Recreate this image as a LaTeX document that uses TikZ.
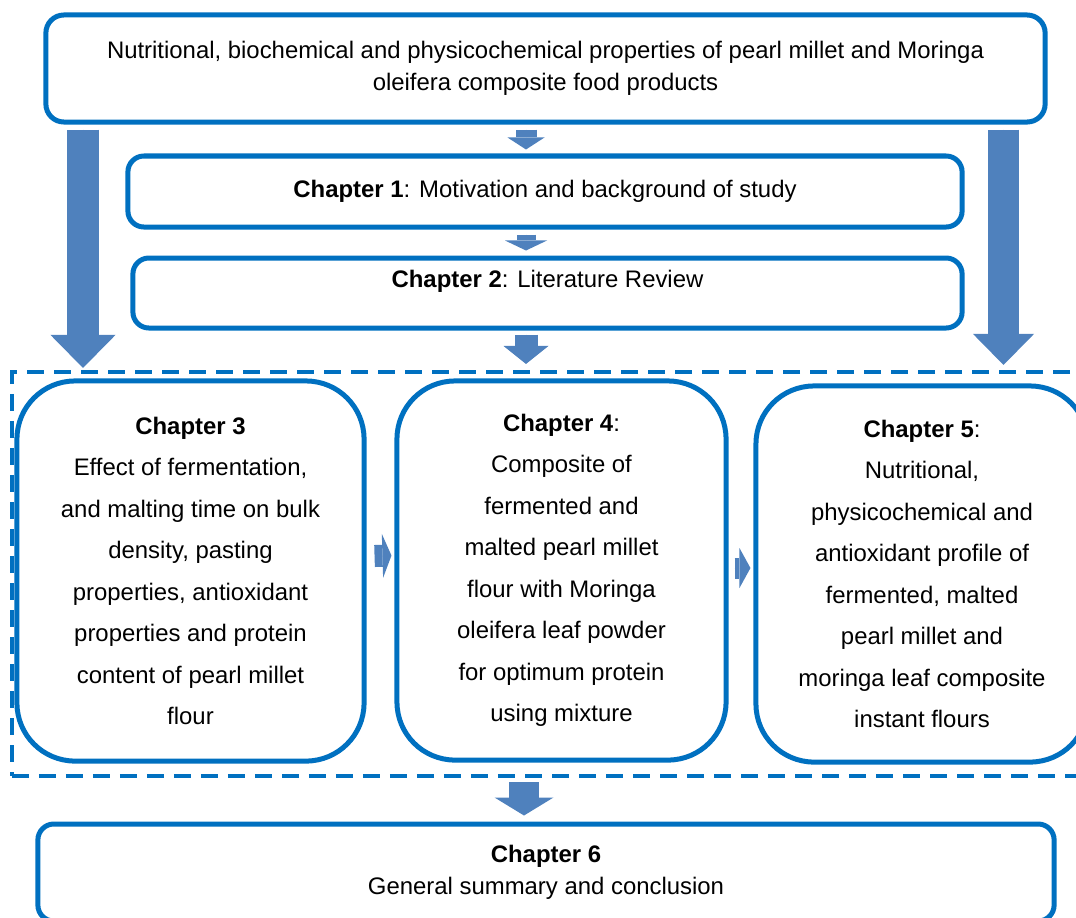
\documentclass[tikz,border=0pt]{standalone}
\usepackage{fontspec}
\setmainfont{Liberation Sans}
\usetikzlibrary{arrows.meta, calc, positioning}
\definecolor{boxblue}{HTML}{0070C0}
\definecolor{arrowblue}{HTML}{4F81BD}
\tikzstyle{chapbox} = [draw=boxblue, line width=1.25mm, fill=white, rectangle, rounded corners=4mm, align=center, inner sep=0pt, font=\fontsize{17}{22.8}\selectfont]
\tikzstyle{bigbox} = [chapbox, rounded corners=14.5mm, font=\fontsize{17}{29.5}\selectfont]
\tikzstyle{group} = [draw=boxblue, line width=1mm, dash pattern=on 4.25mm off 2.5mm, rectangle, inner sep=0pt]
\tikzstyle{flow} = [draw=arrowblue, fill=arrowblue]

\begin{document}
\begin{tikzpicture}[x=0.025cm, y=-0.025cm]
\useasboundingbox (0,0) rectangle (1076,917);
\clip (0,0) rectangle (1076,917);
\coordinate (mid) at (526,0);
\coordinate (lft) at (83,0);
\coordinate (rgt) at (1003.5,0);

\node [chapbox, minimum width=249.75mm, minimum height=26.75mm, rounded corners=4.5mm] (top) at (545.5,68.5) {Nutritional, biochemical and physicochemical properties of pearl millet and Moringa\\oleifera composite food products};
\node [chapbox, minimum width=208.5mm, minimum height=17.75mm] (ch1) at (545,191.5) {\textbf{Chapter 1}: Motivation and background of study};
\node [chapbox, minimum width=207.25mm, minimum height=17.5mm, text depth=7.3mm] (ch2) at (547.5,293) {\textbf{Chapter 2}: Literature Review};
\node [group, minimum width=270.75mm, minimum height=101mm] (grp) at (553.5,574) {};
\node [bigbox, minimum width=86.75mm, minimum height=95mm] (ch3) at (190.5,571) {\textbf{Chapter 3}\\Effect of fermentation,\\and malting time on bulk\\density, pasting\\properties, antioxidant\\properties and protein\\content of pearl millet\\flour};
\node [bigbox, minimum width=82.25mm, minimum height=94.75mm] (ch4) at (561.5,570.5) {\textbf{Chapter 4}:\\Composite of\\fermented and\\malted pearl millet\\flour with Moringa\\oleifera leaf powder\\for optimum protein\\using mixture};
\node [bigbox, minimum width=83mm, minimum height=94mm] (ch5) at (922,574) {\textbf{Chapter 5}:\\Nutritional,\\physicochemical and\\antioxidant profile of\\fermented, malted\\pearl millet and\\moringa leaf composite\\instant flours};
\node [chapbox, minimum width=254mm, minimum height=24.25mm] (ch6) at (546,872.5) {\textbf{Chapter 6}\\General summary and conclusion};

\draw [flow, line width=5.25mm, -{Triangle[width=9.25mm, length=3mm, line width=0pt]}] ($(top.south -| mid)+(0,5)$) -- ($(ch1.north -| mid)+(0,-4)$);
\draw [flow, line width=4.75mm, -{Triangle[width=10.5mm, length=2.5mm, line width=0pt]}] ($(ch1.south -| mid)+(0,5)$) -- ($(ch2.north -| mid)+(0,-5)$);
\draw [flow, line width=5.75mm, -{Triangle[width=11.25mm, length=4.5mm, line width=0pt]}] ($(ch2.south -| mid)+(0,4)$) -- ($(grp.north -| mid)+(0,-6)$);
\draw [flow, line width=8mm, -{Triangle[width=16.25mm, length=8.25mm, line width=0pt]}] ($(top.south -| lft)+(0,5)$) -- ($(grp.north -| lft)+(0,-2)$);
\draw [flow, line width=7.75mm, -{Triangle[width=15.25mm, length=7.75mm, line width=0pt]}] ($(top.south -| rgt)+(0,5)$) -- ($(grp.north -| rgt)+(0,-5)$);
\draw [flow, line width=5.5mm, -{Triangle[width=11mm, length=2.25mm, line width=0pt]}] ($(ch3.east)+(8,-15)$) -- ($(ch4.west)+(-3,-15)$);
\draw [flow, line width=5.25mm, -{Triangle[width=10mm, length=2.75mm, line width=0pt]}] ($(ch4.east)+(6,-2.5)$) -- ($(ch5.west)+(-3,-6)$);
\draw [flow, line width=7.5mm, -{Triangle[width=14.75mm, length=4.5mm, line width=0pt]}] ($(grp.south -| mid)+(-2,4)$) -- ($(ch6.north -| mid)+(-2,-6)$);
\end{tikzpicture}
\end{document}
